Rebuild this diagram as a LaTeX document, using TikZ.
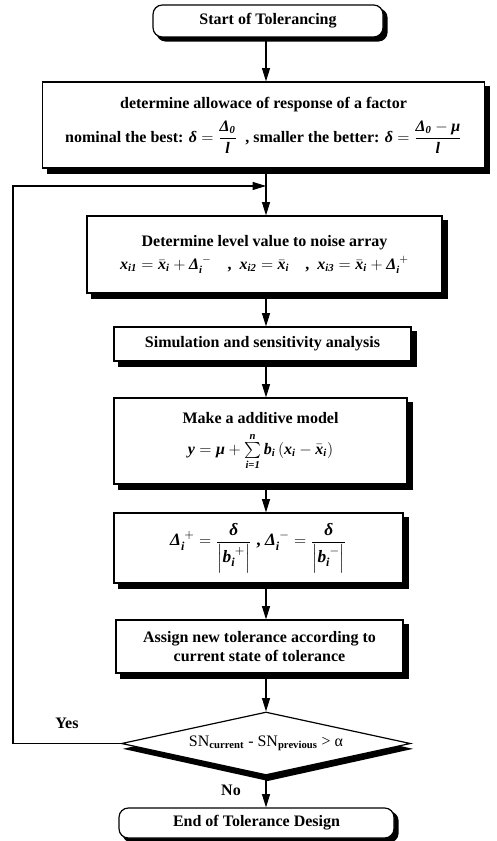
\documentclass[tikz,border=0pt]{standalone}
\usepackage{amsmath}
\usepackage{fontspec}
\setmainfont{Liberation Serif}
\usetikzlibrary{shapes.geometric,arrows.meta,backgrounds}
\newcommand\mv[1]{\text{\bfseries\itshape #1}}
\begin{document}
\begin{tikzpicture}[x=0.75pt,y=-0.75pt,
  every node/.style={font=\fontsize{12pt}{14.5pt}\selectfont\bfseries},
  pbox/.style={draw,line width=0.9pt,fill=white,inner sep=0pt,align=center},
  rbox/.style={pbox,rounded corners=7pt},
  arr/.style={line width=0.8pt,-{Triangle[length=10pt,width=6pt]}},
  lbl/.style={font=\fontsize{12pt}{14pt}\selectfont\bfseries},
  shad/.style={fill=black}
]
\useasboundingbox (0,0) rectangle (496,841);
\coordinate (ax) at (266,0);

\node[rbox,minimum width=172.5pt,minimum height=24pt] (st) at (268,21) {Start of Tolerancing};

\node[pbox,minimum width=332pt,minimum height=64.5pt] (b2) at (263.5,125)
 {determine allowace of response of a factor\\[6pt]
  nominal the best: $\mv{δ}=\dfrac{\mv{Δ}_{\mv{0}}}{\mv{l}}$\ \ , smaller the better: $\mv{δ}=\dfrac{\mv{Δ}_{\mv{0}}-\mv{μ}}{\mv{l}}$};

\node[pbox,minimum width=266.25pt,minimum height=57.75pt] (b3) at (264.5,254.5)
 {Determine level value to noise array\\[3pt]
  $\mv{x}_{\mv{i1}}=\bar{\mv{x}}_{\mv{i}}+\mv{Δ}_{\mv{i}}^{\;-}$\quad,\ \ $\mv{x}_{\mv{i2}}=\bar{\mv{x}}_{\mv{i}}$\quad,\ \ $\mv{x}_{\mv{i3}}=\bar{\mv{x}}_{\mv{i}}+\mv{Δ}_{\mv{i}}^{\;+}$};

\node[pbox,minimum width=222.75pt,minimum height=25.5pt] (b4) at (262.5,344) {Simulation and sensitivity analysis};

\node[pbox,minimum width=219.75pt,minimum height=64.5pt] (b5) at (260.5,441)
 {Make a additive model\\[6pt]
  $\mv{y}=\mv{μ}+\sum\limits_{\mv{i=1}}^{\mv{n}}\mv{b}_{\mv{i}}\left(\mv{x}_{\mv{i}}-\bar{\mv{x}}_{\mv{i}}\right)$};

\node[pbox,minimum width=216.75pt,minimum height=52.5pt] (b6) at (258.5,548)
 {\fontsize{13pt}{15pt}\selectfont$\mv{Δ}_{\mv{i}}^{\;+}=\dfrac{\mv{δ}}{\left|\mv{b}_{\mv{i}}^{\;+}\right|}$\ ,\ $\mv{Δ}_{\mv{i}}^{\;-}=\dfrac{\mv{δ}}{\left|\mv{b}_{\mv{i}}^{\;-}\right|}$};

\node[pbox,minimum width=215.25pt,minimum height=39.75pt] (b7) at (259.5,646.5)
 {Assign new tolerance according to\\current state of tolerance};

\node[pbox,diamond,aspect=4.6,minimum width=216.75pt,minimum height=47.25pt,
  font=\fontsize{12pt}{14pt}\selectfont] (dec) at (266,743.5)
 {SN\textsubscript{\bfseries current} - SN\textsubscript{\bfseries previous} > α};

\node[rbox,minimum width=206.25pt,minimum height=22.5pt] (en) at (256.5,823) {End of Tolerance Design};

\begin{scope}[on background layer]
  \foreach \n in {b2,b3,b4,b5,b6,b7}
    \fill[shad] ([shift={(3.75pt,-3.75pt)}]\n.south west) rectangle ([shift={(3.75pt,-3.75pt)}]\n.north east);
  \foreach \n in {st,en}
    \fill[shad,rounded corners=7pt] ([shift={(3pt,-3pt)}]\n.south west) rectangle ([shift={(3pt,-3pt)}]\n.north east);
  \fill[shad] ([shift={(1.5pt,-4pt)}]dec.west) -- ([shift={(1.5pt,-4pt)}]dec.north)
     -- ([shift={(1.5pt,-4pt)}]dec.east) -- ([shift={(1.5pt,-4pt)}]dec.south) -- cycle;
\end{scope}

\node[lbl] (yes) at (67,723) {Yes};
\node[lbl] (no) at (231,790) {No};

\coordinate (lp) at (13,186);
\coordinate (jn) at (266,186);

\draw[arr] (st.south -| ax) -- (b2.north -| ax);
\draw[arr] (b2.south -| ax) -- (b3.north -| ax);
\draw[arr] (b3.south -| ax) -- (b4.north -| ax);
\draw[arr] (b4.south -| ax) -- (b5.north -| ax);
\draw[arr] (b5.south -| ax) -- (b6.north -| ax);
\draw[arr] (b6.south -| ax) -- (b7.north -| ax);
\draw[arr] (b7.south -| ax) -- (dec.north);
\draw[arr] (dec.south) -- (en.north -| ax);
\draw[arr] (dec.west) -| (lp) -- (jn);
\end{tikzpicture}
\end{document}
